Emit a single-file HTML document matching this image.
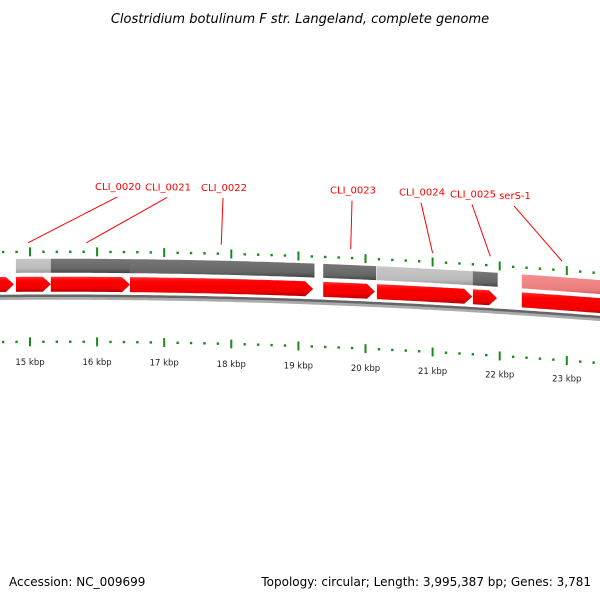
<!DOCTYPE html>
<html><head><meta charset="utf-8">
<style>
html,body{margin:0;padding:0;background:#fff;}
svg{display:block;font-family:"DejaVu Sans","Liberation Sans",sans-serif;}
</style></head>
<body>
<svg id="map" width="600" height="600" viewBox="0 0 600 600">
<defs>
<linearGradient id="gDark" x1="0" y1="0" x2="0" y2="1"><stop offset="0" stop-color="#777"/><stop offset="0.7" stop-color="#666"/><stop offset="1" stop-color="#444"/></linearGradient>
<linearGradient id="gLight" x1="0" y1="0" x2="0" y2="1"><stop offset="0" stop-color="#c8c8c8"/><stop offset="0.7" stop-color="#bbb"/><stop offset="1" stop-color="#999"/></linearGradient>
<linearGradient id="gPink" x1="0" y1="0" x2="0" y2="1"><stop offset="0" stop-color="#f09090"/><stop offset="0.7" stop-color="#ee7d7d"/><stop offset="1" stop-color="#c06060"/></linearGradient>
<linearGradient id="gRed" x1="0" y1="0" x2="0" y2="1"><stop offset="0" stop-color="#ff3030"/><stop offset="0.25" stop-color="#ff0000"/><stop offset="0.75" stop-color="#f00000"/><stop offset="1" stop-color="#b00000"/></linearGradient>
</defs>
<text x="300" y="23" text-anchor="middle" font-size="13" font-style="italic" fill="#000">Clostridium botulinum F str. Langeland, complete genome</text>
<g id="layer"></g>
<text x="9" y="586" font-size="12" fill="#000">Accession: NC_009699</text>
<text x="591" y="586" text-anchor="end" font-size="12" fill="#000">Topology: circular; Length: 3,995,387 bp; Genes: 3,781</text>
</svg>
<script>
// data (kbp)
const geneStarts = [14.0, 14.79, 15.31, 16.49, 19.37, 20.17, 21.60, 22.33];
const geneEnds   = [14.76, 15.31, 16.49, 19.22, 20.14, 21.59, 21.96, 24.0];
const cogStarts  = [14.79, 15.31, 16.49, 19.37, 20.17, 21.60, 22.33];
const cogEnds    = [15.31, 16.49, 19.24, 20.16, 21.62, 21.97, 24.0];
const cogKinds   = ["light","dark","dark","dark","light","dark","pink"];
const labelNames = ["CLI_0020","CLI_0021","CLI_0022","CLI_0023","CLI_0024","CLI_0025","serS-1"];
const labelKbp   = [14.97, 15.84, 17.85, 19.78, 21.00, 21.86, 22.93];
const labelTextX = [118, 168, 224, 353, 422, 473, 515];
const tickLabels = ["15 kbp","16 kbp","17 kbp","18 kbp","19 kbp","20 kbp","21 kbp","22 kbp","23 kbp"];
const tickValues = [15,16,17,18,19,20,21,22,23];

const NS="http://www.w3.org/2000/svg";
const layer=document.getElementById('layer');
function X(k){return 30+(k-15)*67.1;}
function off(x){return 0.0000725*x*x-0.0083*x;}
function mk(tag,attrs){const e=document.createElementNS(NS,tag);for(const a in attrs)e.setAttribute(a,attrs[a]);layer.appendChild(e);return e;}
function band(x0,x1,top,h,arrow){
  const pts=[];const aw=arrow?8:0;
  const xe=Math.min(x1,620);
  const body=arrow?xe-aw:xe;
  for(let x=x0;x<body;x+=4)pts.push([x,top+off(x)]);
  pts.push([body,top+off(body)]);
  if(arrow){pts.push([xe,top+h/2+off(xe)]);}
  for(let x=body;x>x0;x-=4)pts.push([x,top+h+off(x)]);
  pts.push([x0,top+h+off(x0)]);
  return pts.map(p=>p[0].toFixed(1)+','+p[1].toFixed(1)).join(' ');
}
// backbone
let d1='',d2='';
for(let x=-5;x<=605;x+=5){d1+=(x===-5?'M':'L')+x+','+(296+off(x)).toFixed(1);d2+=(x===-5?'M':'L')+x+','+(298.5+off(x)).toFixed(1);}
let bb=mk('path',{d:d2,stroke:'#aaa','stroke-width':3,fill:'none'});


bb=mk('path',{d:d1,stroke:'#666','stroke-width':2.5,fill:'none'});


// cog bars
const fills={light:'url(#gLight)',dark:'url(#gDark)',pink:'url(#gPink)'};
cogStarts.forEach((s,i)=>{
  const p=mk('polygon',{points:band(X(s),X(cogEnds[i]),259,14,false),fill:fills[cogKinds[i]]});
  
  
});
// genes
geneStarts.forEach((s,i)=>{
  const p=mk('polygon',{points:band(X(s),X(geneEnds[i]),277,15,geneEnds[i]<23.9),fill:'url(#gRed)'});
  
  
});
// ticks
for(let k=13.8;k<=24.01;k+=0.2){
  const kk=Math.round(k*5)/5;const x=X(kk);
  if(x<-3||x>603)continue;
  const major=Math.abs(kk-Math.round(kk))<0.01;
  [252,342].forEach((base,j)=>{
    const y=base+off(x);
    const t=major?mk('rect',{x:x-1,y:y-4.5,width:2,height:9,fill:'#1a8a1a'}):mk('rect',{x:x-1.2,y:y-1.2,width:2.4,height:2.4,fill:'#1a8a1a'});
    
    
  });
}
tickValues.forEach((v,i)=>{
  const x=X(v);
  const t=mk('text',{x:x,y:(365+off(x)*0.9).toFixed(1),'text-anchor':'middle','font-size':8.5,fill:'#222'});
  t.textContent=tickLabels[i];
  
  
});
// labels
labelNames.forEach((n,i)=>{
  const tx=labelTextX[i];const ty=190+off(tx)*0.6;
  const gx=X(labelKbp[i]);const gy=243+off(gx);
  const l=mk('line',{x1:tx-1,y1:ty+7,x2:gx,y2:gy,stroke:'#f00','stroke-width':1});
  
  
  const t=mk('text',{x:tx,y:ty.toFixed(1),'text-anchor':'middle','font-size':10,fill:'#f00'});
  t.textContent=n;
  
  
});
</script>
</body></html>
